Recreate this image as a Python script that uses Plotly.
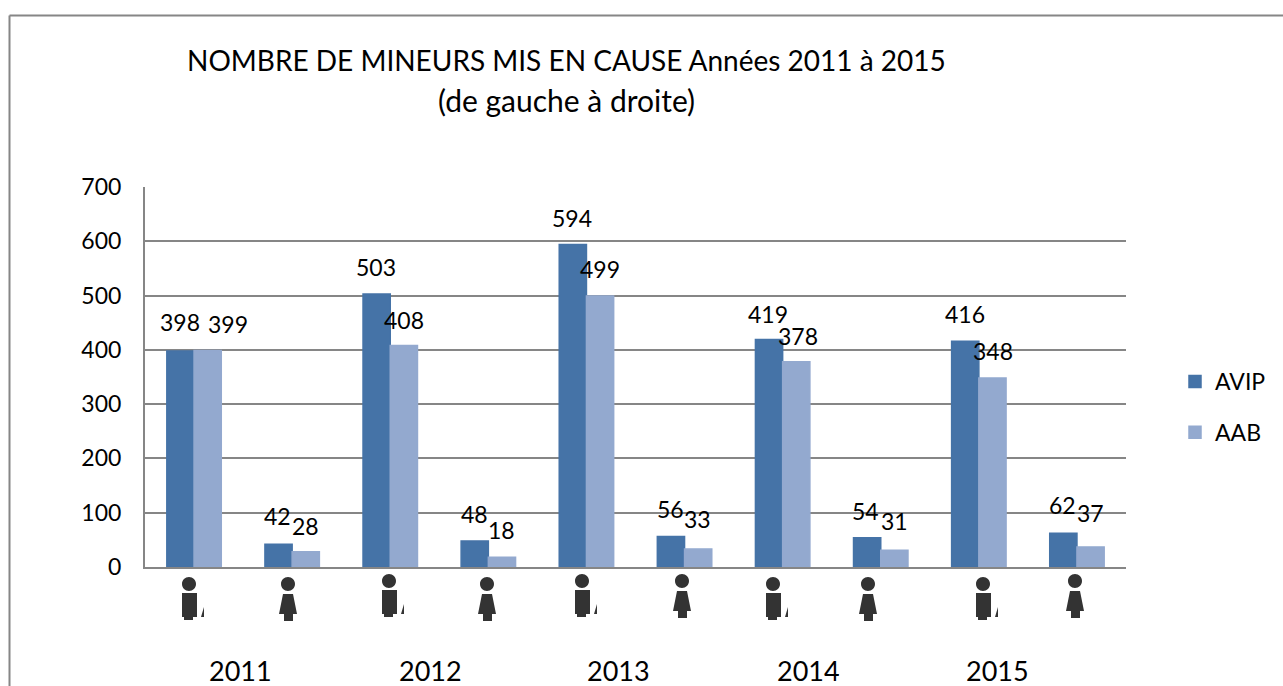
import plotly.graph_objects as go

categories = ["2011 H", "2011 F", "2012 H", "2012 F", "2013 H", "2013 F", "2014 H", "2014 F", "2015 H", "2015 F"]
avip = [398, 42, 503, 48, 594, 56, 419, 54, 416, 62]
aab = [399, 28, 408, 18, 499, 33, 378, 31, 348, 37]
years = ["2011", "2012", "2013", "2014", "2015"]
title_lines = ["NOMBRE DE MINEURS MIS EN CAUSE Années 2011 à 2015", "(de gauche à droite)"]

W, H = 1283, 686
L, R, T, B = 145, 1126, 187, 567
FONT = "Lato"
BLUE, LIGHT, GREY = "#4573a7", "#93a9cf", "#868686"

# label placement, in pixels from the top centre of each group
avip_dx = [-14, -15, -14, -14, -14, -14, -15, -15, -14, -14]
avip_dy = [29, 28, 27, 27, 27, 28, 26, 27, 27, 28]
aab_dx = [34, 13, 14, 13, 14, 13, 15, 14, 14, 14]
aab_dy = [26, 26, 26, 27, 27, 30, 26, 29, 27, 34]
# icon placement: head centre in page pixels
icon_px = [189, 288, 389, 487, 582, 682, 773, 868, 983, 1075]
icon_py = [584, 584, 581, 584, 581, 581, 584, 584, 584, 581]
year_px = [240, 430, 618, 808, 997]
title_py = [60, 100]
title_size = [28, 30]


def px(x):
    return (x - L) / (R - L)


def py(y):
    return (B - y) / (B - T)


fig = go.Figure()
xs = list(range(len(categories)))
fig.add_bar(x=xs, y=avip, name="AVIP", legendgroup="a", marker=dict(color=BLUE, line=dict(color=BLUE, width=1.5)))
fig.add_bar(x=xs, y=aab, name="AAB", legendgroup="b", marker=dict(color=LIGHT, line=dict(color=LIGHT, width=1.5)))

ann = []
for i in xs:
    ann.append(dict(x=i, y=avip[i], text=str(avip[i]), xshift=avip_dx[i], yshift=avip_dy[i],
                    showarrow=False, xanchor="center", yanchor="middle"))
    ann.append(dict(x=i, y=aab[i], text=str(aab[i]), xshift=aab_dx[i], yshift=aab_dy[i],
                    showarrow=False, xanchor="center", yanchor="middle"))
for yr, p in zip(years, year_px):
    ann.append(dict(xref="paper", yref="paper", x=px(p), y=py(670), text=yr, height=28,
                    showarrow=False, xanchor="center", yanchor="middle", font=dict(size=27)))
for line, p, s in zip(title_lines, title_py, title_size):
    ann.append(dict(xref="paper", yref="paper", x=px(566), y=py(p), text=line,
                    showarrow=False, xanchor="center", yanchor="middle", font=dict(size=s)))


def head(r=7):
    k = r * 0.552
    return (f"M{-r},0C{-r},{k} {-k},{r} 0,{r}C{k},{r} {r},{k} {r},0"
            f"C{r},{-k} {k},{-r} 0,{-r}C{-k},{-r} {-r},{-k} {-r},0Z")


man = head() + " M-7,-9H8V-33H4V-36H-5V-33H-7Z M15,-23L15,-33H12Z"
woman = head() + " M-5,-10H5L9,-30H5V-37H-4V-30H-9Z"

shapes = [
    dict(type="line", xref="paper", yref="paper", x0=px(9.5), x1=px(9.5), y0=py(15.5), y1=py(700),
         line=dict(color=GREY, width=2), layer="below"),
    dict(type="line", xref="paper", yref="paper", x0=px(9.5), x1=px(1300), y0=py(15.5), y1=py(15.5),
         line=dict(color=GREY, width=2), layer="below"),
]
for i in xs:
    shapes.append(dict(type="path", xref="paper", yref="paper", xsizemode="pixel", ysizemode="pixel",
                       xanchor=px(icon_px[i]), yanchor=py(icon_py[i]),
                       path=man if i % 2 == 0 else woman, line_width=0, fillcolor="#333333"))

fig.update_layout(
    width=W, height=H, autosize=False,
    margin=dict(l=L, r=W - R, t=T, b=H - B, pad=0),
    paper_bgcolor="white", plot_bgcolor="white",
    font=dict(family=FONT, size=23, color="black"),
    barmode="group", bargap=0.445, bargroupgap=0,
    xaxis=dict(range=[-0.5, 9.5], showticklabels=False, showgrid=False, ticks="", zeroline=False,
               showline=True, linecolor=GREY, linewidth=2, fixedrange=True),
    yaxis=dict(range=[0, 700], dtick=100, showgrid=True, gridcolor=GREY, gridwidth=1.5, zeroline=False,
               showline=True, linecolor=GREY, linewidth=2, ticks="", ticklabelstandoff=17, fixedrange=True,
               tickfont=dict(size=23)),
    legend=dict(x=px(1175), y=py(360), xanchor="left", yanchor="top", font=dict(size=23), itemwidth=30,
                tracegroupgap=18, bgcolor="rgba(0,0,0,0)", traceorder="grouped"),
    annotations=ann, shapes=shapes,
)
fig.write_html("out.html", config={"displayModeBar": False}, post_script="document.body.style.margin='0';")
